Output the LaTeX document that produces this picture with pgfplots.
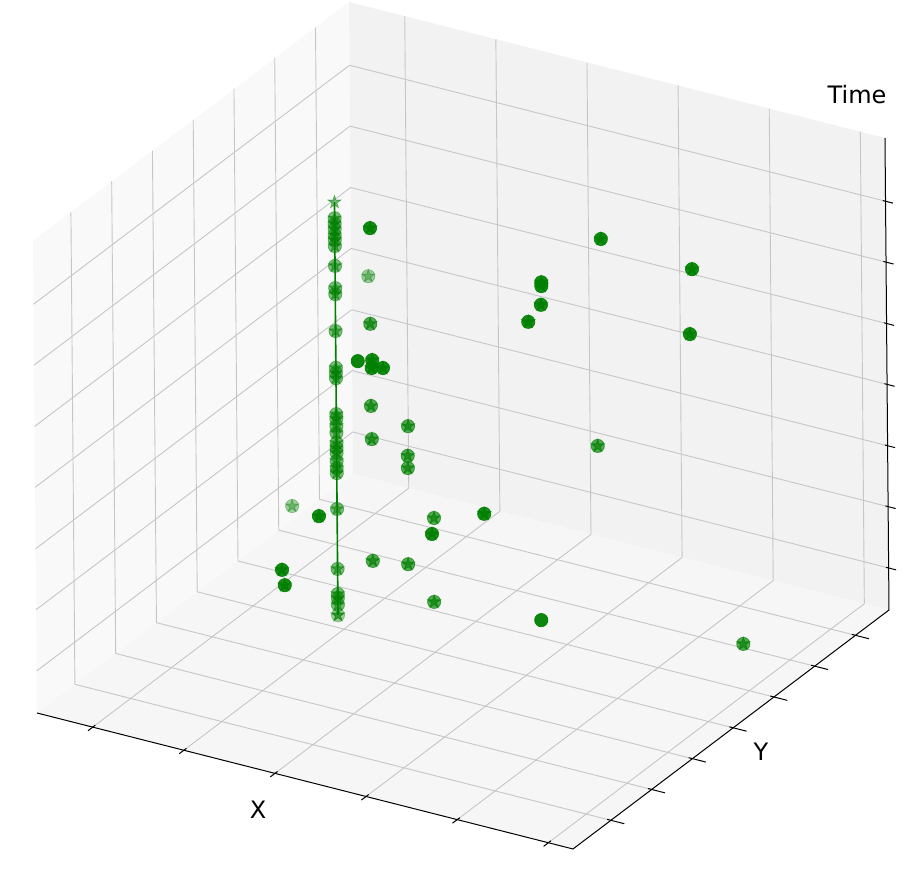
\documentclass[border=0pt]{standalone}
\usepackage{pgfplots}
\usepackage{pgfplotstable}
\pgfplotsset{compat=1.18}
\usepackage{fontspec}
\setmainfont{DejaVu Sans}

\definecolor{mplgreen}{HTML}{008000}
\definecolor{panex}{gray}{0.975}
\definecolor{paney}{gray}{0.95}
\definecolor{panez}{gray}{0.9625}
\definecolor{gridc}{HTML}{C6C6C6}

% filled five-pointed star, like matplotlib's '*'
\pgfdeclareplotmark{fstar}{%
  \pgfpathmoveto{\pgfpointpolar{90}{\pgfplotmarksize}}%
  \pgfpathlineto{\pgfpointpolar{126}{0.382*\pgfplotmarksize}}%
  \pgfpathlineto{\pgfpointpolar{162}{\pgfplotmarksize}}%
  \pgfpathlineto{\pgfpointpolar{198}{0.382*\pgfplotmarksize}}%
  \pgfpathlineto{\pgfpointpolar{234}{\pgfplotmarksize}}%
  \pgfpathlineto{\pgfpointpolar{270}{0.382*\pgfplotmarksize}}%
  \pgfpathlineto{\pgfpointpolar{306}{\pgfplotmarksize}}%
  \pgfpathlineto{\pgfpointpolar{342}{0.382*\pgfplotmarksize}}%
  \pgfpathlineto{\pgfpointpolar{18}{\pgfplotmarksize}}%
  \pgfpathlineto{\pgfpointpolar{54}{0.382*\pgfplotmarksize}}%
  \pgfpathclose
  \pgfusepathqfillstroke
}

% near points (circle + star)
\pgfplotstableread{
x y z
3.33 5 8.70
3.35 5 5.91
3.34 5 5.74
3.55 5 5.80
2.33 5 2.31
1.63 5 0.97
1.68 5 0.66
4.44 5 2.54
5.42 5 3.25
5.86 8 7.68
7.56 8 7.53
4.74 8 6.44
4.74 8 6.36
4.73 8 5.96
4.49 8 5.53
7.51 8 6.14
}\darkpts
% near points, circle only
\pgfplotstableread{
x y z
3.08 5 5.81
6.47 5 1.30
}\darkcirc
\pgfplotstableread{
x y z
3.32 5 6.67
3.32 5 4.93
3.33 5 4.23
4.01 5 4.70
4.00 5 4.07
4.00 5 3.81
3.99 5 1.77
4.47 5 1.11
3.33 5 1.65
4.48 5 2.89
5.77 8 3.27
9.53 6.2 1.07
}\midpts
\pgfplotstableread{
x y z
3.29 5 7.67
1.83 5 2.38
2.67 5 0.31
}\lightpts
% the track
\pgfplotstableread{
x y z
2.67 5 9.06
2.67 5 8.72
2.67 5 8.60
2.67 5 8.49
2.67 5 8.36
2.67 5 8.26
2.67 5 8.13
2.67 5 7.71
2.67 5 7.24
2.67 5 7.11
2.67 5 6.33
2.67 5 5.55
2.67 5 5.44
2.67 5 5.33
2.67 5 4.57
2.67 5 4.47
2.67 5 4.32
2.67 5 4.17
2.67 5 3.96
2.67 5 3.85
2.67 5 3.75
2.67 5 3.58
2.67 5 3.43
2.67 5 3.32
2.67 5 2.56
2.67 5 1.29
2.67 5 0.76
2.67 5 0.67
2.67 5 0.53
2.67 5 0.31
}\trackpts
\pgfplotstableread{
x y z
2.67 5 8.72
2.67 5 8.60
2.67 5 8.49
2.67 5 8.36
2.67 5 8.26
2.67 5 8.13
2.67 5 7.71
2.67 5 7.24
2.67 5 7.11
2.67 5 6.33
2.67 5 5.55
2.67 5 5.44
2.67 5 5.33
2.67 5 4.57
2.67 5 4.47
2.67 5 4.32
2.67 5 4.17
2.67 5 3.96
2.67 5 3.85
2.67 5 3.75
2.67 5 3.58
2.67 5 3.43
2.67 5 3.32
2.67 5 2.56
2.67 5 1.29
2.67 5 0.76
2.67 5 0.67
2.67 5 0.53
}\trackcirc

\begin{document}
\begin{tikzpicture}
\begin{axis}[
  set layers,
  x={(26.8pt,-6.8pt)},
  y={(15.8pt,11.95pt)},
  z={(-0.2pt,23.6pt)},
  xmin=0, xmax=10, ymin=0, ymax=10, zmin=0, zmax=10,
  xtick={1.04,2.74,4.44,6.14,7.84,9.54},
  ytick={1.2,2.49,3.78,5.07,6.36,7.65,8.94},
  ztick={0.89,2.19,3.48,4.78,6.07,7.37,8.66},
  xticklabels={}, yticklabels={}, zticklabels={},
  major tick length=0pt,
  grid=major,
  grid style={gridc, line width=0.45pt},
  axis line style={draw=none},
  clip=false,
]
\begin{pgfonlayer}{axis background}
\fill[panex] (0,0,0) -- (0,10,0) -- (0,10,10) -- (0,0,10) -- cycle;
\fill[paney] (0,10,0) -- (10,10,0) -- (10,10,10) -- (0,10,10) -- cycle;
\fill[panez] (0,0,0) -- (10,0,0) -- (10,10,0) -- (0,10,0) -- cycle;
\end{pgfonlayer}
\coordinate (O) at (0,0,0);

% axis edges and ticks
\draw[black, line width=0.5pt] (0,0,0) -- (10,0,0) -- (10,10,0) -- (10,10,10);
\pgfplotsinvokeforeach{1.04,2.74,4.44,6.14,7.84,9.54}{
  \draw[black, line width=0.5pt] (#1,-0.15,0) -- (#1,0.08,0);
}
\pgfplotsinvokeforeach{1.2,2.49,3.78,5.07,6.36,7.65,8.94}{
  \draw[black, line width=0.5pt] (9.93,#1,0) -- (10.25,#1,0);
}
\pgfplotsinvokeforeach{0.89,2.19,3.48,4.78,6.07,7.37,8.66}{
  \draw[black, line width=0.5pt] (9.95,10,#1) -- (10.14,10,#1);
}

\addplot3[only marks, mark=*, mark size=3.3pt, mplgreen, opacity=0.35,
  mark options={opacity=0.35}] table {\lightpts};
\addplot3[only marks, mark=*, mark size=3.3pt, mplgreen, opacity=0.5,
  mark options={opacity=0.5}] table {\trackcirc};
\addplot3[mplgreen, line width=0.8pt, no marks] table {\trackpts};
\addplot3[only marks, mark=*, mark size=3.3pt, mplgreen, opacity=0.65,
  mark options={opacity=0.65}] table {\midpts};
\addplot3[only marks, mark=*, mark size=3.3pt, mplgreen, opacity=0.9,
  mark options={opacity=0.9}] table {\darkpts};
\addplot3[only marks, mark=*, mark size=3.3pt, mplgreen, opacity=0.95,
  mark options={opacity=0.95}] table {\darkcirc};

\addplot3[only marks, mark=fstar, mark size=3.3pt, mplgreen, opacity=0.35,
  mark options={opacity=0.35}] table {\lightpts};
\addplot3[only marks, mark=fstar, mark size=3.3pt, mplgreen, opacity=0.5,
  mark options={opacity=0.5}] table {\trackpts};
\addplot3[only marks, mark=fstar, mark size=3.3pt, mplgreen, opacity=0.65,
  mark options={opacity=0.65}] table {\midpts};
\addplot3[only marks, mark=fstar, mark size=3.3pt, mplgreen, opacity=0.9,
  mark options={opacity=0.9}] table {\darkpts};
\end{axis}

\node[font=\fontsize{12}{14}\selectfont] at ([shift={(110.5pt,-48.5pt)}]O) {X};
\node[font=\fontsize{12}{14}\selectfont] at ([shift={(362pt,-19.5pt)}]O) {Y};
\node[font=\fontsize{12}{14}\selectfont] at ([shift={(410pt,309pt)}]O) {Time};

\pgfresetboundingbox
\path[use as bounding box] ([shift={(-18.5pt,-85.5pt)}]O) rectangle ([shift={(440.5pt,356.5pt)}]O);
\end{tikzpicture}
\end{document}
